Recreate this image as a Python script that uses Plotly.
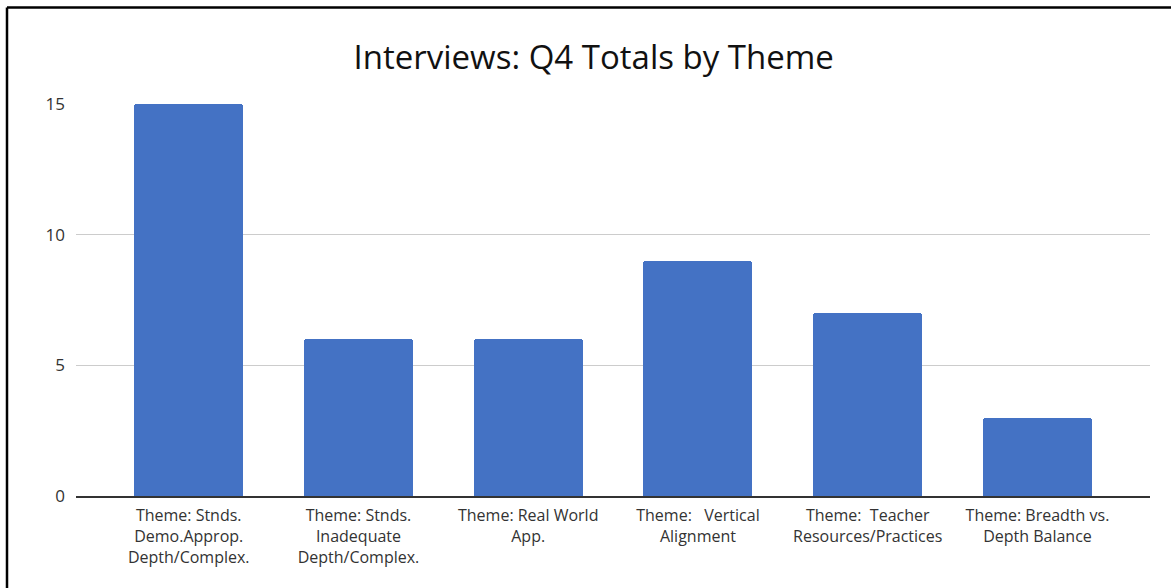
import plotly.graph_objects as go

categories = [
	"Theme: Stnds.<br>Demo.Approp.<br>Depth/Complex.",
	"Theme: Stnds.<br>Inadequate<br>Depth/Complex.",
	"Theme: Real World<br>App.",
	"Theme: \u00a0 Vertical<br>Alignment",
	"Theme: \u00a0Teacher<br>Resources/Practices",
	"Theme: Breadth vs.<br>Depth Balance",
]
totals = [15, 6, 6, 9, 7, 3]
y_ticks = [0, 5, 10, 15]

W, H = 1171, 588
L, R, T, B = 76, 1150, 103.5, 496


def px_x(p):
	return (p - L) / (R - L)


def px_y(p):
	return (B - p) / (B - T)


fig = go.Figure(
	go.Bar(
		x=list(range(len(categories))),
		y=totals,
		width=0.642,
		marker=dict(color="#4472C4", cornerradius=3, line=dict(width=0)),
		hovertemplate="%{y}<extra></extra>",
	)
)

fig.update_xaxes(
	range=[-0.664, 5.663],
	tickvals=list(range(len(categories))),
	ticktext=categories,
	tickangle=0,
	showgrid=False,
	showline=True,
	linecolor="#333333",
	linewidth=1.5,
	ticks="",
	ticklabelstandoff=4,
	tickfont=dict(size=16, color="#333333"),
	fixedrange=True,
)
fig.update_yaxes(
	range=[0, 15],
	tickvals=y_ticks,
	showgrid=True,
	gridcolor="#cccccc",
	gridwidth=1,
	zeroline=False,
	showline=False,
	ticks="",
	ticklabelstandoff=10,
	tickfont=dict(size=17, color="#333333"),
	fixedrange=True,
)

# border of the original (only top and left edges are visible)
fig.add_shape(type="line", xref="paper", yref="paper",
			  x0=px_x(7), x1=px_x(7), y0=px_y(600), y1=px_y(7),
			  line=dict(color="black", width=2.5))
fig.add_shape(type="line", xref="paper", yref="paper",
			  x0=px_x(7), x1=px_x(1175), y0=px_y(7), y1=px_y(7),
			  line=dict(color="black", width=2.5))

fig.update_layout(
	width=W,
	height=H,
	margin=dict(l=L, r=W - R, t=T, b=H - B),
	paper_bgcolor="white",
	plot_bgcolor="white",
	font=dict(family="Open Sans, Noto Sans, sans-serif"),
	title=dict(
		text="Interviews: Q4 Totals by Theme",
		x=0.507,
		xanchor="center",
		y=1 - 57 / H,
		yanchor="middle",
		font=dict(size=33, color="#111111"),
	),
	showlegend=False,
	bargap=0,
)

fig.write_html(
	"out.html",
	config=dict(displayModeBar=False),
	post_script="document.body.style.margin='0';",
)
